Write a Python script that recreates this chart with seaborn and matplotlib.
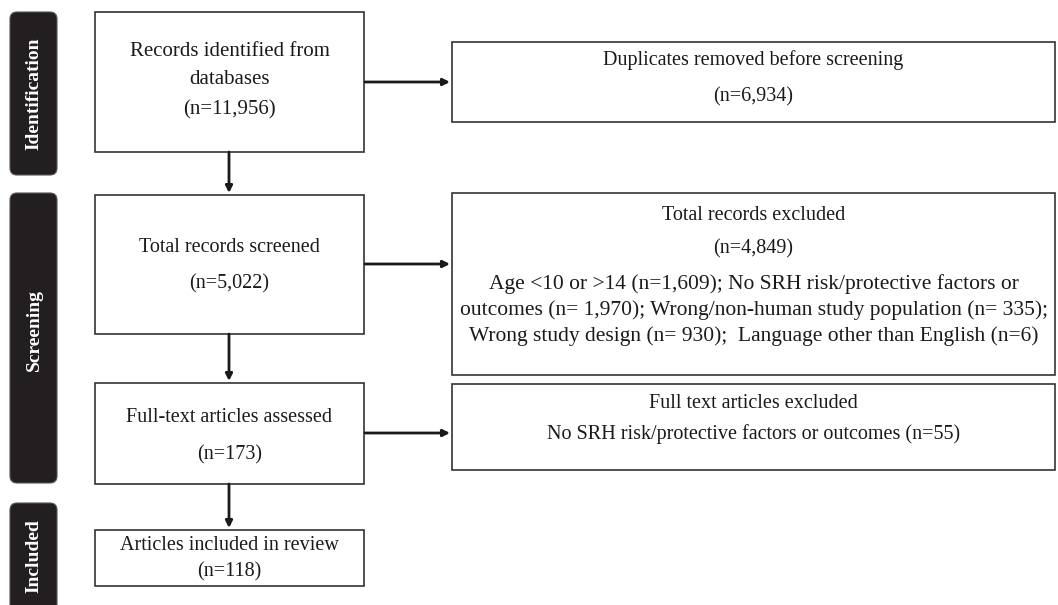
import matplotlib
matplotlib.use("Agg")
import matplotlib.pyplot as plt
import seaborn as sns
from matplotlib.patches import Rectangle, FancyBboxPatch

sns.set_theme(style="white")
plt.rcParams["font.family"] = ["Liberation Serif", "DejaVu Serif"]

# -----------------------------
# DATOS (textos y conteos del diagrama PRISMA)
# -----------------------------
etapas = ["Identification", "Screening", "Included"]

n_identificados = "11,956"
n_duplicados = "6,934"
n_screened = "5,022"
n_excluidos = "4,849"
n_fulltext = "173"
n_fulltext_excl = "55"
n_incluidos = "118"

motivos_exclusion = [
    "Age <10 or >14 (n=1,609); No SRH risk/protective factors or",
    "outcomes (n= 1,970); Wrong/non-human study population (n= 335);",
    "Wrong study design (n= 930);  Language other than English (n=6)",
]

textos_izq = [
    ["Records identified from", "databases", f"(n={n_identificados})"],
    ["Total records screened", f"(n={n_screened})"],
    ["Full-text articles assessed", f"(n={n_fulltext})"],
    ["Articles included in review", f"(n={n_incluidos})"],
]
textos_der = [
    ["Duplicates removed before screening", f"(n={n_duplicados})"],
    ["Total records excluded", f"(n={n_excluidos})"] + motivos_exclusion,
    ["Full text articles excluded",
     f"No SRH risk/protective factors or outcomes (n={n_fulltext_excl})"],
]

# -----------------------------
# LAYOUT (en pixeles)
# -----------------------------
W, H = 1058, 605
cajas_izq = [(95, 12, 364, 152), (95, 195, 364, 334), (95, 383, 364, 484), (95, 530, 364, 586)]
lineas_izq = [[52, 80, 110], [248, 284], [417, 455], [545, 572]]
cajas_der = [(452, 42, 1055, 122), (452, 193, 1055, 375), (452, 384, 1055, 470)]
lineas_der = [[60, 97], [216, 249, 284, 310, 336], [403, 434]]
flechas_der_y = [82, 264, 433]
bandas = [(12, 175), (193, 483), (503, 640)]

fig = plt.figure(figsize=(W / 100, H / 100), dpi=100)
ax = fig.add_axes([0, 0, 1, 1])
ax.set_xlim(0, W)
ax.set_ylim(H, 0)
ax.axis("off")

color_borde = "#333333"
fs = 14.5

# bandas negras de etapas
for nombre, (y0, y1) in zip(etapas, bandas):
    ax.add_patch(FancyBboxPatch((10, y0), 47, y1 - y0,
                                boxstyle="round,pad=0,rounding_size=7",
                                facecolor="#231f20", edgecolor="#555555", lw=0.8))
    yc = (y0 + y1) / 2 if y1 < H else (y0 + H) / 2 + 2
    if nombre == "Screening":
        yc -= 8
    ax.text(34, yc, nombre, rotation=90, ha="center", va="center",
            color="white", fontsize=14, fontweight="bold")

def caja(x0, y0, x1, y1):
    ax.add_patch(Rectangle((x0, y0), x1 - x0, y1 - y0, facecolor="white",
                           edgecolor=color_borde, lw=1.2))

for i, ((x0, y0, x1, y1), lineas, ys) in enumerate(zip(cajas_izq, textos_izq, lineas_izq)):
    caja(x0, y0, x1, y1)
    for t, y in zip(lineas, ys):
        ax.text((x0 + x1) / 2, y, t, ha="center", va="center",
                fontsize=15 if i == 0 else fs, color="#1a1a1a")

for (x0, y0, x1, y1), lineas, ys in zip(cajas_der, textos_der, lineas_der):
    caja(x0, y0, x1, y1)
    for t, y in zip(lineas, ys):
        tam = 15.5 if t in motivos_exclusion else fs
        ax.text((x0 + x1) / 2, y, t, ha="center", va="center", fontsize=tam, color="#1a1a1a")

props = dict(arrowstyle="-|>", lw=2, color="#1a1a1a", mutation_scale=10, shrinkA=0, shrinkB=0)

# flechas horizontales
for y in flechas_der_y:
    ax.annotate("", xy=(450, y), xytext=(365, y), arrowprops=props)

# flechas verticales
xc = 229
for (_, _, _, ya), (_, yb, _, _) in zip(cajas_izq[:-1], cajas_izq[1:]):
    ax.annotate("", xy=(xc, yb - 2), xytext=(xc, ya), arrowprops=props)

plt.savefig("out.png", dpi=100)
